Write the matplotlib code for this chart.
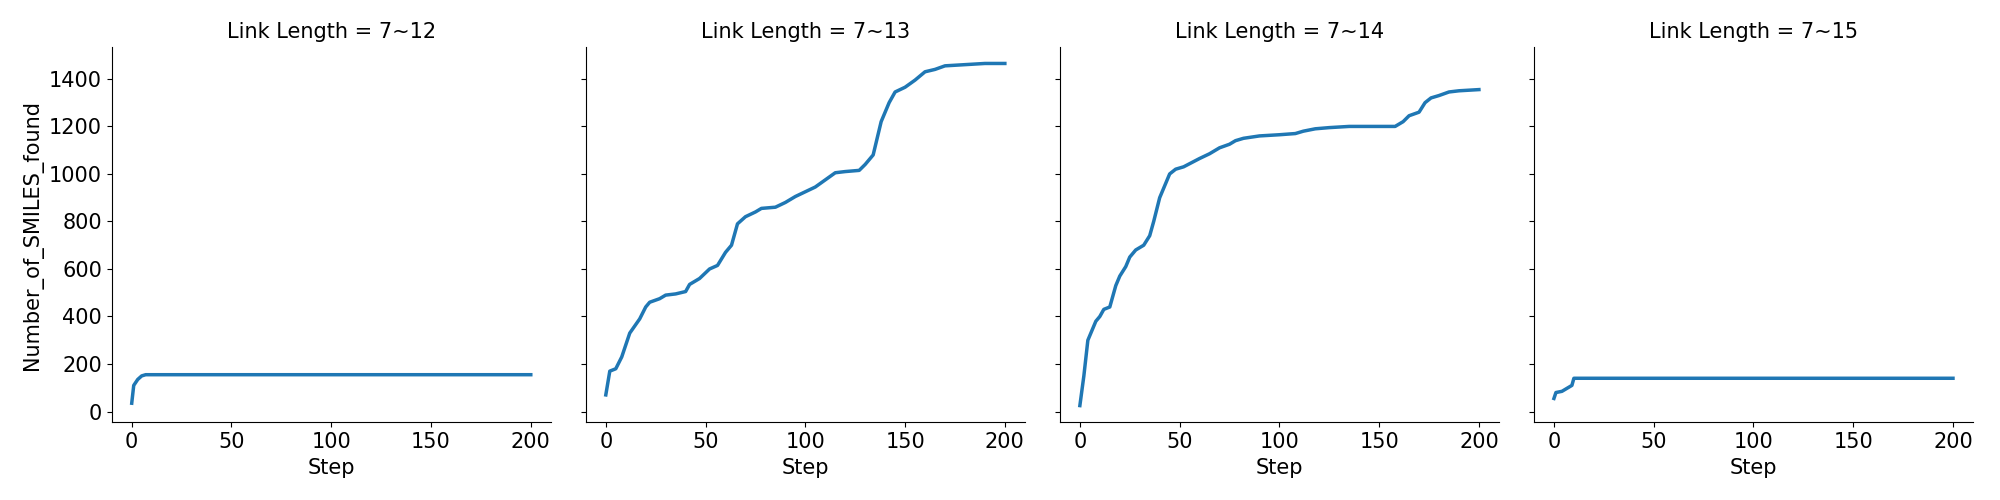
import matplotlib
matplotlib.use("Agg")
import matplotlib.pyplot as plt
import numpy as np

titles = ["Link Length = 7~12", "Link Length = 7~13", "Link Length = 7~14", "Link Length = 7~15"]

steps_12 = [0, 1, 3, 5, 7, 200]
found_12 = [35, 110, 135, 150, 155, 155]

steps_13 = [0, 2, 5, 8, 10, 12, 17, 20, 22, 27, 30, 35, 40, 42, 47, 52, 56, 60, 63, 66, 70, 75,
            78, 85, 90, 95, 100, 105, 110, 115, 120, 127, 130, 134, 136, 138, 142, 145, 150, 155,
            160, 165, 170, 180, 190, 200]
found_13 = [70, 170, 180, 230, 280, 330, 390, 440, 460, 475, 490, 495, 505, 535, 560, 600, 615,
            670, 700, 790, 820, 840, 855, 860, 880, 905, 925, 945, 975, 1005, 1010, 1015, 1040,
            1080, 1150, 1220, 1300, 1345, 1365, 1395, 1430, 1440, 1455, 1460, 1465, 1465]

steps_14 = [0, 2, 4, 6, 8, 10, 12, 15, 18, 20, 23, 25, 28, 32, 35, 37, 40, 43, 45, 48, 52, 60, 65,
            70, 75, 78, 82, 90, 100, 108, 112, 118, 125, 135, 158, 162, 165, 170, 173, 176, 180,
            185, 190, 200]
found_14 = [25, 150, 300, 340, 380, 400, 430, 440, 530, 570, 610, 650, 680, 700, 740, 800, 900,
            960, 1000, 1020, 1030, 1065, 1085, 1110, 1125, 1140, 1150, 1160, 1165, 1170, 1180,
            1190, 1195, 1200, 1200, 1220, 1245, 1260, 1300, 1320, 1330, 1345, 1350, 1355]

steps_15 = [0, 1, 4, 6, 9, 10, 200]
found_15 = [55, 80, 85, 95, 110, 140, 140]

series = [(steps_12, found_12), (steps_13, found_13), (steps_14, found_14), (steps_15, found_15)]

plt.rcParams["font.size"] = 15
fig, axes = plt.subplots(1, 4, figsize=(20, 5), dpi=100, sharey=True)
for ax, title, (x, y) in zip(axes, titles, series):
    ax.plot(x, y, color="#1f77b4", linewidth=2.5)
    ax.set_title(title, fontsize=15)
    ax.set_xlabel("Step", fontsize=15)
    ax.set_xticks([0, 50, 100, 150, 200])
    ax.spines["top"].set_visible(False)
    ax.spines["right"].set_visible(False)
    ax.tick_params(labelsize=15)
axes[0].set_ylabel("Number_of_SMILES_found", fontsize=15)
axes[0].set_yticks(np.arange(0, 1401, 200))
axes[0].set_ylim(-45, 1535)
axes[0].set_xlim(-10, 210)
fig.tight_layout()
fig.subplots_adjust(wspace=0.08)
fig.savefig("out.png")
